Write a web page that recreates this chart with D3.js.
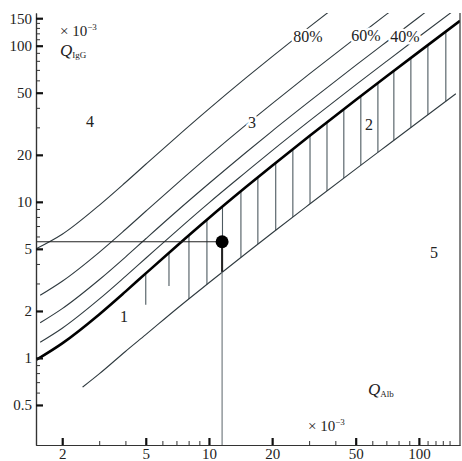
<!DOCTYPE html>
<html lang="en">
<head>
    <meta charset="UTF-8">
    <script src="https://cdn.jsdelivr.net/npm/d3@7"></script>
    <title>Reiber diagram</title>
    <style>
        body { margin: 0; background: white; }
        svg { display: block; font-family: "Liberation Serif", "Times New Roman", serif; }
        .lbl { font-size: 16px; fill: #222; paint-order: stroke; stroke: white; stroke-width: 5px; stroke-linejoin: round; }
    </style>
</head>
<body>
    <div id="chart"></div>
    <script>
        // axis ticks (x 10^-3)
        const xMajor = [2, 5, 10, 20, 50, 100];
        const xMinor = [3, 4, 6, 7, 8, 9, 30, 40, 60, 70, 80, 90, 110, 120, 130, 140];
        const yMajor = [0.5, 1, 2, 5, 10, 20, 50, 100, 150];
        const yMinor = [0.6, 0.7, 0.8, 0.9, 3, 4, 6, 7, 8, 9, 30, 40, 60, 70, 80, 90, 110, 120, 130, 140];

        // upper limit (thick) and lower limit of the reference range
        const limitX = [1.5, 2, 3, 4, 5, 7, 10, 15, 20, 30, 50, 70, 100, 157];
        const limitY = [0.97, 1.24, 1.90, 2.66, 3.48, 5.20, 7.88, 12.43, 17.04, 26.29, 44.86, 63.44, 91.33, 144.3];
        const lowerX = [2.5, 3, 4, 5, 7, 10, 15, 20, 30, 50, 70, 100, 150];
        const lowerY = [0.65, 0.79, 1.10, 1.41, 2.06, 3.03, 4.67, 6.32, 9.61, 16.21, 22.8, 32.7, 49.2];

        // intrathecal fraction lines
        const fracX = [1.57, 2, 3, 4, 5, 7, 10, 15, 20, 30, 50, 70, 100, 157];
        const frac20Y = [1.26, 1.55, 2.38, 3.33, 4.35, 6.5, 9.85, 15.5, 21.3, 32.9, 56.1, 79.3, 114.2, 180];
        const frac40X = [1.57, 2, 3, 4, 5, 7, 10, 15, 20, 30, 50, 70, 100, 110];
        const frac40Y = [1.68, 2.07, 3.17, 4.43, 5.8, 8.67, 13.1, 20.7, 28.4, 43.8, 74.8, 105.7, 152.2, 167.7];
        const frac60X = [1.57, 2, 3, 4, 5, 7, 10, 15, 20, 30, 50, 70, 80];
        const frac60Y = [2.52, 3.1, 4.75, 6.65, 8.7, 13.0, 19.7, 31.1, 42.6, 65.7, 112, 158.6, 182];
        const frac80X = [1.5, 2, 3, 4, 5, 7, 10, 15, 20, 30, 40];
        const frac80Y = [5.0, 6.2, 9.5, 13.3, 17.4, 26, 39.4, 62.2, 85.2, 131.5, 177.5];

        // hatching inside the reference range
        const hatchX = [5, 6.45, 8.03, 9.78, 11.6, 14.2, 17.1, 20.8, 25.1, 30.3, 36.5, 43.9, 52.9, 63.8, 76, 91.6, 110.4, 134.4];
        const hatchTop = [3.48, 4.72, 6.11, 7.68, 9.33, 11.70, 14.37, 17.78, 21.75, 26.57, 32.32, 39.19, 47.55, 57.68, 69.02, 83.52, 101.0, 123.3];
        const hatchBottom = [2.19, 2.89, 2.39, 2.96, 3.56, 4.41, 5.36, 6.58, 8.00, 9.71, 11.75, 14.19, 17.16, 20.76, 24.78, 29.93, 36.13, 44.05];

        // patient sample
        const sampleAlb = 11.55;
        const sampleIgG = 5.55;

        const width = 462, height = 461;
        const svg = d3.select("#chart").append("svg")
            .attr("width", width)
            .attr("height", height);

        const x = d3.scaleLog().domain([1.5, 157]).range([36, 460]);
        const y = d3.scaleLog().domain([0.277, 162]).range([445, 13]);

        svg.append("clipPath").attr("id", "plot")
            .append("rect")
            .attr("x", 36).attr("y", 13)
            .attr("width", 424).attr("height", 432);

        const plot = svg.append("g").attr("clip-path", "url(#plot)");

        const line = d3.line()
            .x(d => x(d[0]))
            .y(d => y(d[1]))
            .curve(d3.curveMonotoneX);

        const drawLine = (xs, ys, w, col) => {
            plot.append("path")
                .attr("d", line(d3.zip(xs, ys)))
                .attr("fill", "none")
                .attr("stroke", col)
                .attr("stroke-width", w);
        };

        // hatch lines
        plot.selectAll(".hatch")
            .data(d3.range(hatchX.length))
            .enter().append("line")
            .attr("class", "hatch")
            .attr("x1", i => x(hatchX[i]))
            .attr("x2", i => x(hatchX[i]))
            .attr("y1", i => y(hatchTop[i]))
            .attr("y2", i => y(hatchBottom[i]))
            .attr("stroke", "#4d5a60")
            .attr("stroke-width", 1.1);

        drawLine(lowerX, lowerY, 1.1, "#2f3a3f");
        drawLine(fracX, frac20Y, 1.1, "#2f3a3f");
        drawLine(frac40X, frac40Y, 1.1, "#2f3a3f");
        drawLine(frac60X, frac60Y, 1.1, "#2f3a3f");
        drawLine(frac80X, frac80Y, 1.1, "#2f3a3f");
        drawLine(limitX, limitY, 2.6, "#000");

        // sample guide lines and point
        plot.append("line")
            .attr("x1", x(1.5)).attr("x2", x(sampleAlb))
            .attr("y1", y(sampleIgG)).attr("y2", y(sampleIgG))
            .attr("stroke", "#222").attr("stroke-width", 1.1);
        plot.append("line")
            .attr("x1", x(sampleAlb)).attr("x2", x(sampleAlb))
            .attr("y1", y(sampleIgG)).attr("y2", y(0.277))
            .attr("stroke", "#6a7378").attr("stroke-width", 1.1);
        plot.append("line")
            .attr("x1", x(sampleAlb)).attr("x2", x(sampleAlb))
            .attr("y1", y(sampleIgG)).attr("y2", y(3.56))
            .attr("stroke", "#222").attr("stroke-width", 2);
        plot.append("circle")
            .attr("cx", x(sampleAlb)).attr("cy", y(sampleIgG))
            .attr("r", 6.5).attr("fill", "#000");

        // axes
        const styleAxis = (g) => {
            g.attr("font-size", null).attr("font-family", null);
            g.select(".domain").attr("stroke", "#333").attr("stroke-width", 1.2);
        };
        const fmt = d => d3.format("~g")(d);

        svg.append("g")
            .attr("transform", "translate(0,445)")
            .call(d3.axisBottom(x).tickValues(xMinor).tickSizeInner(-4).tickSizeOuter(0).tickFormat(""))
            .call(styleAxis)
            .selectAll(".tick line").attr("stroke", "#333");
        const xg = svg.append("g")
            .attr("transform", "translate(0,445)")
            .call(d3.axisBottom(x).tickValues(xMajor).tickSizeInner(-7).tickSizeOuter(0).tickPadding(3).tickFormat(fmt))
            .call(styleAxis);
        xg.selectAll(".tick line").attr("stroke", "#111").attr("stroke-width", 2.2);
        xg.selectAll(".tick text").attr("font-size", 15).attr("fill", "#222");

        svg.append("g")
            .attr("transform", "translate(36,0)")
            .call(d3.axisLeft(y).tickValues(yMinor).tickSizeInner(-4).tickSizeOuter(0).tickFormat(""))
            .call(styleAxis)
            .selectAll(".tick line").attr("stroke", "#333");
        const yg = svg.append("g")
            .attr("transform", "translate(36,0)")
            .call(d3.axisLeft(y).tickValues(yMajor).tickSizeInner(-7).tickSizeOuter(0).tickPadding(4).tickFormat(fmt))
            .call(styleAxis);
        yg.selectAll(".tick line").attr("stroke", "#111").attr("stroke-width", 2.2);
        yg.selectAll(".tick text").attr("font-size", 15).attr("fill", "#222");

        // right border
        svg.append("line")
            .attr("x1", 460).attr("x2", 460)
            .attr("y1", 13).attr("y2", 445)
            .attr("stroke", "#333").attr("stroke-width", 1.2);

        // annotations
        const labels = [
            { t: "80%", px: 308, py: 42 },
            { t: "60%", px: 366, py: 41 },
            { t: "40%", px: 405, py: 42 },
            { t: "3", px: 252, py: 128 },
            { t: "2", px: 369, py: 130 },
            { t: "1", px: 124, py: 322 },
            { t: "4", px: 90, py: 127 },
            { t: "5", px: 434, py: 258 }
        ];
        svg.selectAll(".lbl")
            .data(labels)
            .enter().append("text")
            .attr("class", "lbl")
            .attr("x", d => d.px)
            .attr("y", d => d.py)
            .attr("text-anchor", "middle")
            .text(d => d.t);

        const sci = (px, py) => {
            const t = svg.append("text").attr("x", px).attr("y", py)
                .attr("font-size", 15).attr("fill", "#222");
            t.append("tspan").text("× 10");
            t.append("tspan").attr("font-size", 9).attr("dy", -6).text("−3");
        };
        sci(60, 36);
        sci(308, 431);

        const qLabel = (px, py, sub) => {
            const t = svg.append("text").attr("x", px).attr("y", py).attr("fill", "#222");
            t.append("tspan").attr("font-size", 17).attr("font-style", "italic").text("Q");
            t.append("tspan").attr("font-size", 9).attr("dy", 2).text(sub);
        };
        qLabel(60, 56, "IgG");
        qLabel(368, 395, "Alb");
    </script>
</body>
</html>
